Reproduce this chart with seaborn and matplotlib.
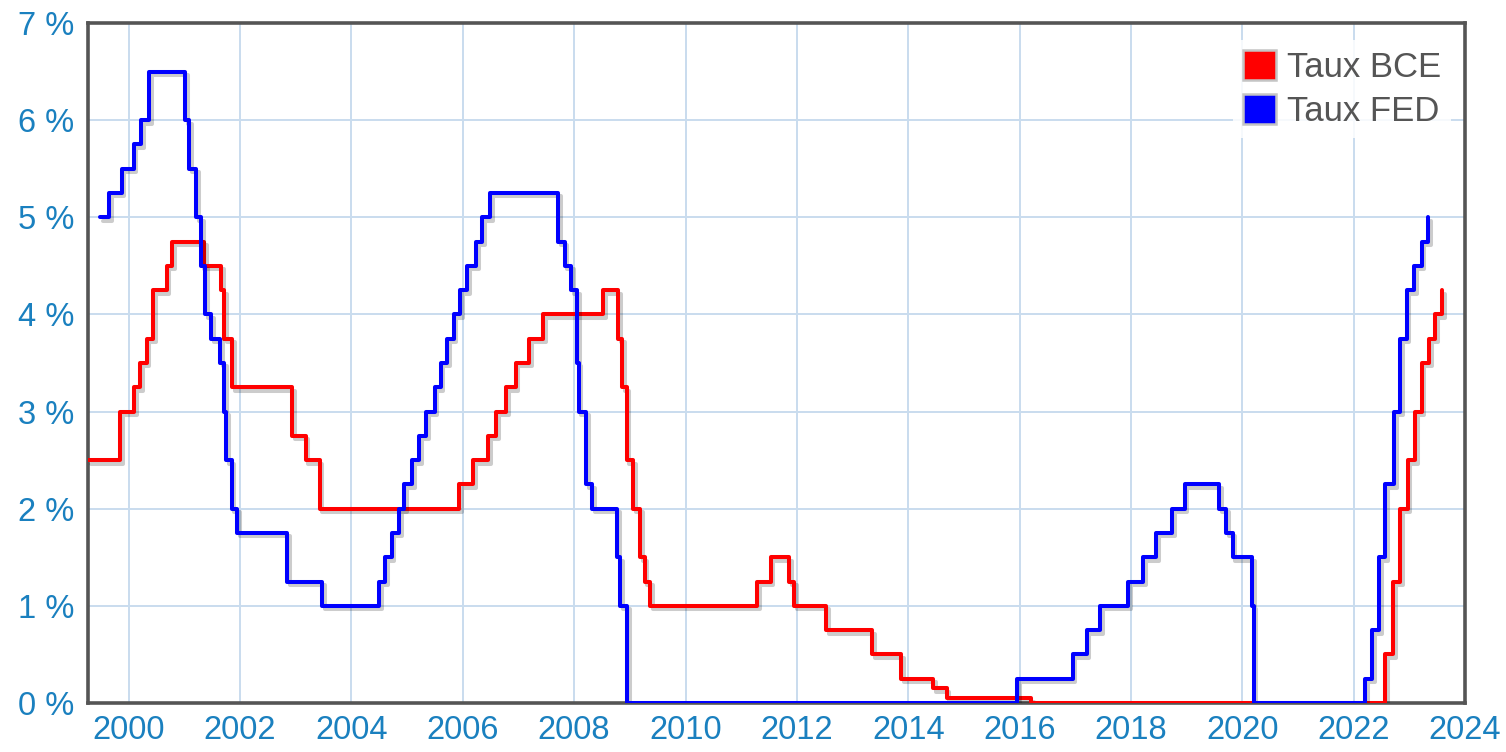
import matplotlib
matplotlib.use("Agg")
import matplotlib.pyplot as plt
import matplotlib.dates as mdates
import matplotlib.patheffects as pe
from matplotlib.patches import Patch
import seaborn as sns
import pandas as pd

# ---------------- data ----------------
ecb_dates = ["1999-04-09", "1999-11-05", "2000-02-04", "2000-03-17", "2000-04-28",
             "2000-06-09", "2000-09-06", "2000-10-11", "2001-05-11", "2001-08-31",
             "2001-09-18", "2001-11-09", "2002-12-06", "2003-03-07", "2003-06-06",
             "2005-12-06", "2006-03-08", "2006-06-15", "2006-08-09", "2006-10-11",
             "2006-12-13", "2007-03-14", "2007-06-13", "2008-07-09", "2008-10-15",
             "2008-11-12", "2008-12-10", "2009-01-21", "2009-03-11", "2009-04-08",
             "2009-05-13", "2011-04-13", "2011-07-13", "2011-11-09", "2011-12-14",
             "2012-07-11", "2013-05-08", "2013-11-13", "2014-06-11", "2014-09-10",
             "2016-03-16", "2022-07-27", "2022-09-14", "2022-11-02", "2022-12-21",
             "2023-02-08", "2023-03-22", "2023-05-10", "2023-06-21", "2023-08-02"]
ecb_rates = [2.50, 3.00, 3.25, 3.50, 3.75,
             4.25, 4.50, 4.75, 4.50, 4.25,
             3.75, 3.25, 2.75, 2.50, 2.00,
             2.25, 2.50, 2.75, 3.00, 3.25,
             3.50, 3.75, 4.00, 4.25, 3.75,
             3.25, 2.50, 2.00, 1.50, 1.25,
             1.00, 1.25, 1.50, 1.25, 1.00,
             0.75, 0.50, 0.25, 0.15, 0.05,
             0.00, 0.50, 1.25, 2.00, 2.50,
             3.00, 3.50, 3.75, 4.00, 4.25]

fed_dates = ["1999-06-30", "1999-08-24", "1999-11-16", "2000-02-02", "2000-03-21",
             "2000-05-16", "2001-01-03", "2001-01-31", "2001-03-20", "2001-04-18",
             "2001-05-15", "2001-06-27", "2001-08-21", "2001-09-17", "2001-10-02",
             "2001-11-06", "2001-12-11", "2002-11-06", "2003-06-25", "2004-06-30",
             "2004-08-10", "2004-09-21", "2004-11-10", "2004-12-14", "2005-02-02",
             "2005-03-22", "2005-05-03", "2005-06-30", "2005-08-09", "2005-09-20",
             "2005-11-01", "2005-12-13", "2006-01-31", "2006-03-28", "2006-05-10",
             "2006-06-29", "2007-09-18", "2007-10-31", "2007-12-11", "2008-01-22",
             "2008-01-30", "2008-03-18", "2008-04-30", "2008-10-08", "2008-10-29",
             "2008-12-16", "2015-12-16", "2016-12-14", "2017-03-15", "2017-06-14",
             "2017-12-13", "2018-03-21", "2018-06-13", "2018-09-26", "2018-12-19",
             "2019-07-31", "2019-09-18", "2019-10-30", "2020-03-03", "2020-03-15",
             "2022-03-16", "2022-05-04", "2022-06-15", "2022-07-27", "2022-09-21",
             "2022-11-02", "2022-12-14", "2023-02-01", "2023-03-22", "2023-05-03"]
fed_rates = [5.00, 5.25, 5.50, 5.75, 6.00,
             6.50, 6.00, 5.50, 5.00, 4.50,
             4.00, 3.75, 3.50, 3.00, 2.50,
             2.00, 1.75, 1.25, 1.00, 1.25,
             1.50, 1.75, 2.00, 2.25, 2.50,
             2.75, 3.00, 3.25, 3.50, 3.75,
             4.00, 4.25, 4.50, 4.75, 5.00,
             5.25, 4.75, 4.50, 4.25, 3.50,
             3.00, 2.25, 2.00, 1.50, 1.00,
             0.00, 0.25, 0.50, 0.75, 1.00,
             1.25, 1.50, 1.75, 2.00, 2.25,
             2.00, 1.75, 1.50, 1.00, 0.00,
             0.25, 0.75, 1.50, 2.25, 3.00,
             3.75, 4.25, 4.50, 4.75, 5.00]

series_names = ["Taux BCE", "Taux FED"]
series_colors = ["#ff0000", "#0000ff"]
y_ticks = [0, 1, 2, 3, 4, 5, 6, 7]
y_tick_labels = ["0 %", "1 %", "2 %", "3 %", "4 %", "5 %", "6 %", "7 %"]
x_start = "1999-04-09"
x_end = "2024-01-01"

# ---------------- build frame ----------------
df = pd.concat([
    pd.DataFrame({"date": pd.to_datetime(ecb_dates), "taux": ecb_rates, "serie": series_names[0]}),
    pd.DataFrame({"date": pd.to_datetime(fed_dates), "taux": fed_rates, "serie": series_names[1]}),
], ignore_index=True)

sns.set_theme(style="white")
plt.rcParams['font.family'] = ['Liberation Sans', 'DejaVu Sans']

fig, ax = plt.subplots(figsize=(15.06, 7.52), dpi=100)
fig.subplots_adjust(left=0.0584, right=0.9728, bottom=0.0652, top=0.9694)

sns.lineplot(data=df, x="date", y="taux", hue="serie", hue_order=series_names,
             palette=series_colors, drawstyle="steps-post", estimator=None,
             linewidth=2.9, legend=False, ax=ax, zorder=3)

for line in ax.get_lines():
    line.set_path_effects([
        pe.SimpleLineShadow(offset=(2, -2.5), shadow_color="black", alpha=0.2),
        pe.Normal(),
    ])

ax.set_xlim(pd.Timestamp(x_start), pd.Timestamp(x_end))
ax.set_ylim(0, 7)
ax.set_yticks(y_ticks)
ax.set_yticklabels(y_tick_labels)
ax.xaxis.set_major_locator(mdates.YearLocator(2))
ax.xaxis.set_major_formatter(mdates.DateFormatter("%Y"))

tick_color = "#1a80bf"
ax.tick_params(axis="both", length=0, labelsize=23.5, labelcolor=tick_color)
ax.tick_params(axis="y", pad=10)
ax.tick_params(axis="x", pad=9)
ax.set_xlabel("")
ax.set_ylabel("")

ax.grid(True, color="#c9dcee", linewidth=1.4, zorder=0)
ax.set_axisbelow(True)
for s in ax.spines.values():
    s.set_visible(True)
    s.set_color("#555555")
    s.set_linewidth(2.6)

handles = [Patch(facecolor=c, edgecolor="#c4c4c4", linewidth=1.8) for c in series_colors]
leg = ax.legend(handles, series_names, loc="upper right", bbox_to_anchor=(0.99, 0.975),
                fontsize=25, handlelength=0.95, handleheight=0.95, handletextpad=0.3,
                labelspacing=0.28, frameon=True, framealpha=0.85, borderpad=0.3,
                borderaxespad=0.0)
leg.get_frame().set_edgecolor("none")
leg.get_frame().set_facecolor("white")
for t in leg.get_texts():
    t.set_color("#555555")

fig.savefig("out.png", dpi=100, facecolor="white")
